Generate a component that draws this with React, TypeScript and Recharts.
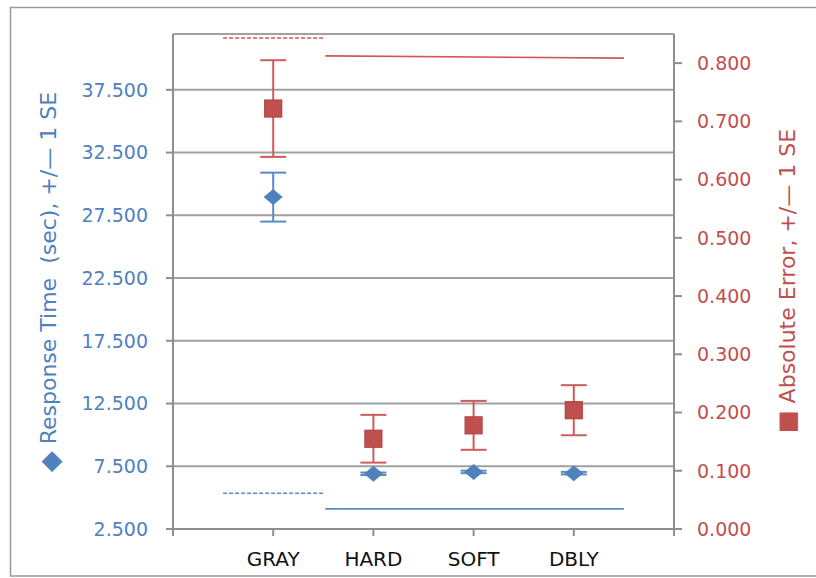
import React from 'react';
import {
  ComposedChart,
  Scatter,
  XAxis,
  YAxis,
  CartesianGrid,
  ErrorBar,
  ReferenceLine,
} from 'recharts';

// ---------- data ----------
const categories = ['GRAY', 'HARD', 'SOFT', 'DBLY'];
const categoryPos = [1, 2, 3, 4];
const responseTime = [28.95, 6.9, 7.05, 6.95];
const responseTimeSE = [1.95, 0.1, 0.1, 0.1];
const absoluteError = [0.722, 0.155, 0.178, 0.204];
const absoluteErrorSE = [0.083, 0.041, 0.042, 0.043];

const leftTicks = [2.5, 7.5, 12.5, 17.5, 22.5, 27.5, 32.5, 37.5];
const rightTicks = [0, 0.1, 0.2, 0.3, 0.4, 0.5, 0.6, 0.7, 0.8];
const xTicks = [0, 1, 2, 3, 4, 5];

// reference segments (x range in category units, y in axis units)
const grayRange = [0.5, 1.5];
const otherRange = [1.52, 4.5];
const rtGrayRef = 5.35;
const rtOtherRef = 4.1;
const aeGrayRef = 0.843;
const aeOtherRef = [0.8125, 0.8085];

const BLUE = '#4F81BD';
const RED = '#C0504D';
const FONT = '"DejaVu Sans", Verdana, sans-serif';

const rtData = categoryPos.map((x, i) => ({ x, y: responseTime[i], err: responseTimeSE[i] }));
const aeData = categoryPos.map((x, i) => ({ x, y: absoluteError[i], err: absoluteErrorSE[i] }));

const Diamond = (p: any) => {
  const { cx, cy } = p;
  return (
    <polygon
      points={`${cx - 9.5},${cy} ${cx},${cy - 8} ${cx + 9.5},${cy} ${cx},${cy + 8}`}
      fill={BLUE}
    />
  );
};

const Square = (p: any) => {
  const { cx, cy } = p;
  return (
    <rect x={cx - 8.5} y={cy - 8.5} width={17} height={17} fill={RED} stroke="#B04542" strokeWidth={1.2} />
  );
};

const NoShape = () => <g />;

export default function App() {
  return (
    <div style={{ position: 'absolute', left: 0, top: 0, width: 816, height: 578, background: '#fff' }}>
      <ComposedChart
        width={816}
        height={578}
        margin={{ top: 34, right: 0, bottom: 0, left: 0 }}
        style={{ fontFamily: FONT }}
      >
        <CartesianGrid vertical={false} yAxisId="rt" stroke="#a0a0a0" strokeWidth={2} />
        <XAxis
          xAxisId="x"
          type="number"
          dataKey="x"
          domain={[0, 5]}
          ticks={xTicks}
          interval={0}
          height={49}
          tickSize={7}
          tickMargin={16}
          tickFormatter={(v: number) => (v >= 1 && v <= 4 ? categories[v - 1] : '')}
          tick={{ fill: '#111', fontSize: 20, fontFamily: FONT }}
          axisLine={{ stroke: '#8f8f8f', strokeWidth: 2 }}
          tickLine={{ stroke: '#8f8f8f', strokeWidth: 2 }}
          allowDataOverflow
        />
        <YAxis
          yAxisId="rt"
          orientation="left"
          dataKey="y"
          type="number"
          domain={[2.5, 41.95]}
          ticks={leftTicks}
          interval={0}
          width={173}
          tickSize={7}
          tickMargin={18}
          tickFormatter={(v: number) => v.toFixed(3)}
          tick={{ fill: BLUE, fontSize: 19, fontFamily: FONT }}
          axisLine={{ stroke: '#8f8f8f', strokeWidth: 2 }}
          tickLine={{ stroke: '#8f8f8f', strokeWidth: 2 }}
          allowDataOverflow
        />
        <YAxis
          yAxisId="ae"
          orientation="right"
          dataKey="y"
          type="number"
          domain={[0, 0.85]}
          ticks={rightTicks}
          interval={0}
          width={142}
          tickSize={8}
          tickMargin={15}
          tickFormatter={(v: number) => v.toFixed(3)}
          tick={{ fill: RED, fontSize: 19, fontFamily: FONT }}
          axisLine={{ stroke: '#8f8f8f', strokeWidth: 2 }}
          tickLine={{ stroke: '#8f8f8f', strokeWidth: 2 }}
          allowDataOverflow
        />

        <ReferenceLine
          xAxisId="x"
          yAxisId="ae"
          segment={[{ x: grayRange[0], y: aeGrayRef }, { x: grayRange[1], y: aeGrayRef }]}
          stroke="#D05555"
          strokeWidth={1.5}
          strokeDasharray="4 2"
          ifOverflow="visible"
        />
        <ReferenceLine
          xAxisId="x"
          yAxisId="ae"
          segment={[{ x: otherRange[0], y: aeOtherRef[0] }, { x: otherRange[1], y: aeOtherRef[1] }]}
          stroke="#D05555"
          strokeWidth={1.6}
          ifOverflow="visible"
        />
        <ReferenceLine
          xAxisId="x"
          yAxisId="rt"
          segment={[{ x: grayRange[0], y: rtGrayRef }, { x: grayRange[1], y: rtGrayRef }]}
          stroke="#5A8AC6"
          strokeWidth={1.5}
          strokeDasharray="4 2"
          ifOverflow="visible"
        />
        <ReferenceLine
          xAxisId="x"
          yAxisId="rt"
          segment={[{ x: otherRange[0], y: rtOtherRef }, { x: otherRange[1], y: rtOtherRef }]}
          stroke="#5A8AC6"
          strokeWidth={1.6}
          ifOverflow="visible"
        />

        {/* error bars first, markers on top */}
        <Scatter
          xAxisId="x"
          yAxisId="rt"
          data={rtData}
          dataKey="y"
          shape={NoShape}
          isAnimationActive={false}
        >
          <ErrorBar dataKey="err" direction="y" width={13} stroke="#5A8AC6" strokeWidth={2} />
        </Scatter>
        <Scatter
          xAxisId="x"
          yAxisId="ae"
          data={aeData}
          dataKey="y"
          shape={NoShape}
          isAnimationActive={false}
        >
          <ErrorBar dataKey="err" direction="y" width={13} stroke="#CF5C5C" strokeWidth={2} />
        </Scatter>
        <Scatter
          xAxisId="x"
          yAxisId="rt"
          data={rtData}
          dataKey="y"
          shape={Diamond}
          isAnimationActive={false}
        />
        <Scatter
          xAxisId="x"
          yAxisId="ae"
          data={aeData}
          dataKey="y"
          shape={Square}
          isAnimationActive={false}
        />
      </ComposedChart>

      <svg
        width={816}
        height={578}
        style={{ position: 'absolute', left: 0, top: 0, pointerEvents: 'none', fontFamily: FONT }}
      >
        <rect x={10.5} y={7.5} width={820} height={568.5} fill="none" stroke="#9a9a9a" strokeWidth={1.5} />
        <text
          transform="translate(48.5,282) rotate(-90)"
          textAnchor="middle"
          dominantBaseline="central"
          fill={BLUE}
          fontSize={22}
          style={{ whiteSpace: 'pre' }}
        >
          <tspan fontSize={27}>◆</tspan> Response Time  (sec), +/— 1 SE
        </text>
        <text
          transform="translate(787,281) rotate(-90)"
          textAnchor="middle"
          dominantBaseline="central"
          fill={RED}
          fontSize={22}
          style={{ whiteSpace: 'pre' }}
        >
          <tspan fontSize={24}>■</tspan> Absolute Error, +/— 1 SE
        </text>
      </svg>
    </div>
  );
}
